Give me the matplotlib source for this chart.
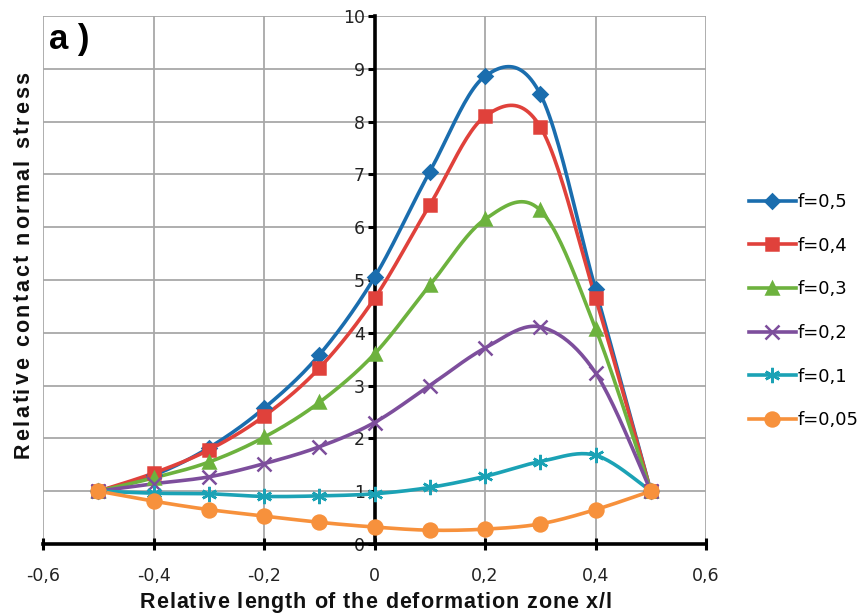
import numpy as np
import matplotlib
matplotlib.use("Agg")
import matplotlib.pyplot as plt
from matplotlib.ticker import FuncFormatter
from matplotlib.font_manager import FontProperties, findfont
from matplotlib.ft2font import FT2Font
from matplotlib.transforms import offset_copy

# Relative contact normal stress along the deformation zone
x = [-0.5, -0.4, -0.3, -0.2, -0.1, 0.0, 0.1, 0.2, 0.3, 0.4, 0.5]
f05 = [1.0, 1.30, 1.82, 2.57, 3.58, 5.05, 7.05, 8.86, 8.52, 4.82, 1.0]
f04 = [1.0, 1.34, 1.78, 2.42, 3.33, 4.65, 6.42, 8.10, 7.90, 4.66, 1.0]
f03 = [1.0, 1.25, 1.55, 2.02, 2.68, 3.60, 4.90, 6.15, 6.32, 4.08, 1.0]
f02 = [1.0, 1.14, 1.27, 1.52, 1.84, 2.30, 3.00, 3.71, 4.11, 3.24, 1.0]
f01 = [1.0, 0.96, 0.95, 0.90, 0.91, 0.95, 1.07, 1.28, 1.56, 1.68, 1.0]
f005 = [1.0, 0.81, 0.65, 0.53, 0.41, 0.32, 0.26, 0.28, 0.38, 0.65, 1.0]

labels = ["f=0,5", "f=0,4", "f=0,3", "f=0,2", "f=0,1", "f=0,05"]
series = [f05, f04, f03, f02, f01, f005]
colors = ["#1A6DAE", "#E0413B", "#6DB23E", "#7D4E9C", "#1BA2B5", "#F7913C"]
markers = ["D", "s", "^", "x", (6, 2, 0), "o"]
msizes = [7, 9, 9, 10, 11, 10]


def smooth(xs, ys, n=24):
    # Catmull-Rom curve through the points (Excel style smoothed line)
    p = np.column_stack([xs, ys]).astype(float)
    p = np.vstack([p[0], p, p[-1]])
    out = []
    t = np.linspace(0, 1, n, endpoint=False)[:, None]
    for i in range(1, len(p) - 2):
        p0, p1, p2, p3 = p[i - 1], p[i], p[i + 1], p[i + 2]
        c1 = p1 + (p2 - p0) / 6.0
        c2 = p2 - (p3 - p1) / 6.0
        seg = ((1 - t) ** 3) * p1 + 3 * ((1 - t) ** 2) * t * c1 \
            + 3 * (1 - t) * t ** 2 * c2 + t ** 3 * p2
        out.append(seg)
    out.append(p[-2][None, :])
    out = np.vstack(out)
    return out[:, 0], out[:, 1]


def spaced_text(fig, x, y, s, size, width_px, rotation=0):
    # bold text with extra letter spacing, centred on (x, y) in figure coords
    prop = FontProperties(family="Liberation Sans", weight="bold", size=size)
    font = FT2Font(findfont(prop))
    font.set_size(size, 72)
    adv = [font.load_char(ord(ch)).linearHoriAdvance / 65536.0 for ch in s]
    width_pt = width_px * 72.0 / fig.dpi
    track = (width_pt - sum(adv)) / (len(s) - 1)
    pos = -width_pt / 2.0
    for ch, a in zip(s, adv):
        if rotation == 0:
            tr = offset_copy(fig.transFigure, fig, x=pos, y=0, units="points")
        else:
            tr = offset_copy(fig.transFigure, fig, x=0, y=pos, units="points")
        fig.text(x, y, ch, fontproperties=prop, rotation=rotation,
                 rotation_mode="anchor", ha="left", va="baseline",
                 transform=tr, color="#111111")
        pos += a + track


fig = plt.figure(figsize=(8.6, 6.16), dpi=100, facecolor="white")
ax = fig.add_axes([0.05, 0.117, 0.771, 0.857])
ax.set_xlim(-0.6, 0.6)
ax.set_ylim(0, 10)
ax.set_xticks(np.arange(-0.6, 0.61, 0.2))
ax.set_yticks(range(0, 11))
ax.grid(True, color="#A8A8A8", linewidth=1.3, zorder=0)
ax.set_axisbelow(True)

for ys, lab, c, m, ms in zip(series, labels, colors, markers, msizes):
    sx, sy = smooth(x, ys)
    ax.plot(sx, sy, color=c, linewidth=2.6, zorder=3, solid_capstyle="round")
    ax.plot(x, ys, linestyle="none", marker=m, markersize=ms, color=c,
            markeredgecolor=c, markeredgewidth=1.8, zorder=4)
    ax.plot([], [], color=c, linewidth=2.6, marker=m, markersize=ms,
            markeredgecolor=c, markeredgewidth=1.8, label=lab)

ax.spines["left"].set_position(("data", 0))
ax.spines["left"].set_linewidth(2.6)
ax.spines["bottom"].set_linewidth(2.6)
ax.spines["top"].set_visible(False)
ax.spines["right"].set_visible(False)
ax.tick_params(axis="both", length=5, width=2.2, labelsize=12.5,
               colors="black")
ax.tick_params(axis="x", direction="inout", length=9, pad=12)
ax.tick_params(axis="y", direction="out", pad=2)

fmt = FuncFormatter(lambda v, pos: ("%g" % round(v, 1)).replace(".", ","))
ax.xaxis.set_major_formatter(fmt)
ax.yaxis.set_major_formatter(FuncFormatter(lambda v, pos: "%d" % v))
for t in ax.get_xticklabels() + ax.get_yticklabels():
    t.set_color("#222222")

# axis titles
spaced_text(fig, 0.437, 0.0125, "Relative length of the deformation zone x/l",
            15.5, 472)
spaced_text(fig, 0.0336, 0.570, "Relative contact normal stress",
            15.5, 386, rotation=90)

ax.text(-0.59, 9.55, "a )", fontsize=25, fontweight="bold",
        family="Liberation Sans", ha="left", va="center", zorder=5)

leg = fig.legend(loc="center left", bbox_to_anchor=(0.852, 0.495),
                 frameon=False, handlelength=2.6, labelspacing=1.42,
                 handletextpad=0.1, prop={"size": 13})

fig.savefig("out.png", dpi=100, facecolor="white")
